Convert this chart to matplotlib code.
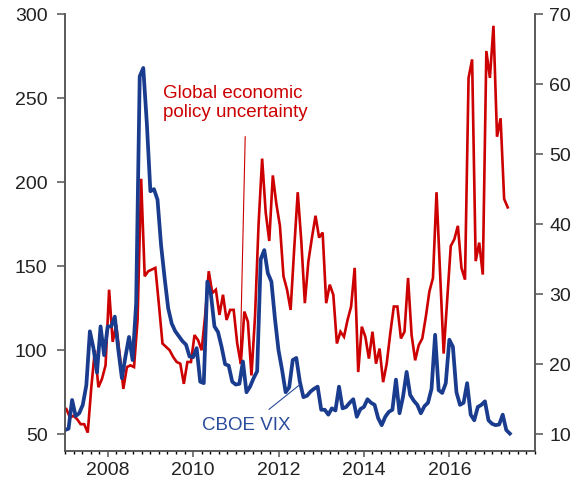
import numpy as np
import matplotlib.pyplot as plt
from matplotlib.ticker import MultipleLocator

plt.rcParams['font.family'] = ['Liberation Sans', 'DejaVu Sans']

# global economic policy uncertainty index, monthly from Jan 2007 (left axis)
epu = [65, 60, 61, 59, 56, 56, 51, 78, 100, 78, 83, 91,
       136, 105, 115, 97, 77, 90, 91, 90, 118, 202, 144, 147,
       148, 149, 127, 104, 102, 100, 96, 93, 92, 80, 93, 93,
       109, 106, 100, 121, 147, 134, 136, 121, 133, 118, 124, 124,
       104, 92, 123, 117, 85, 120, 175, 214, 182, 165, 204, 187,
       174, 144, 136, 124, 160, 194, 165, 128, 153, 167, 180, 167,
       170, 128, 139, 133, 104, 111, 108, 118, 126, 149, 87, 114,
       108, 95, 111, 92, 101, 81, 92, 110, 126, 126, 107, 111,
       143, 109, 94, 103, 107, 120, 135, 143, 194, 146, 98, 130,
       162, 166, 174, 149, 142, 262, 273, 153, 164, 145, 278, 262,
       293, 227, 238, 190, 185]

# CBOE VIX, monthly average from Jan 2007 (right axis)
vix = [10.6, 10.8, 14.9, 12.6, 13.0, 14.2, 17.0, 24.7, 22.3, 18.8, 25.4, 21.3,
       25.4, 25.4, 26.8, 22.0, 18.0, 21.1, 23.9, 20.6, 28.7, 61.1, 62.3, 54.4,
       44.7, 45.0, 43.5, 37.0, 32.3, 28.0, 25.8, 24.7, 24.0, 23.3, 22.8, 21.1,
       21.0, 22.3, 17.5, 17.3, 31.8, 30.0, 25.4, 24.6, 22.5, 20.0, 19.8, 17.5,
       17.1, 17.2, 20.4, 16.0, 16.8, 18.0, 19.0, 35.0, 36.3, 33.0, 31.8, 26.5,
       22.0, 19.2, 16.0, 16.7, 20.6, 20.9, 17.5, 15.3, 15.5, 16.1, 16.5, 16.8,
       13.5, 13.5, 12.8, 13.7, 13.4, 16.8, 13.7, 13.9, 14.5, 15.0, 12.5, 13.6,
       13.9, 15.0, 14.5, 14.2, 12.3, 11.3, 12.5, 13.2, 13.5, 17.8, 13.0, 15.4,
       18.9, 15.6, 14.8, 14.2, 13.0, 14.0, 14.5, 16.5, 24.2, 16.3, 15.9, 17.3,
       23.5, 22.5, 16.0, 14.2, 14.5, 17.3, 12.8, 12.0, 13.9, 14.2, 14.7, 12.0,
       11.5, 11.3, 11.4, 12.8, 10.6, 10.1]

year_ticks = [2008, 2010, 2012, 2014, 2016]

red = '#cc0000'
blue = '#1a3c8e'
axis_col = '#555555'

epu_x = 2007 + (np.arange(len(epu)) + 0.4) / 12
vix_x = 2007 + np.arange(len(vix)) / 12

fig = plt.figure(figsize=(5.75, 4.84), dpi=100)
ax = fig.add_axes([0.113, 0.068, 0.817, 0.903])
ax2 = ax.twinx()

ax.plot(epu_x, epu, color=red, lw=1.9, solid_joinstyle='miter')
ax2.plot(vix_x, vix, color=blue, lw=2.7, solid_joinstyle='round')

ax.set_xlim(2007, 2018)
ax.set_ylim(40, 300)
ax2.set_ylim(7.6, 70)

ax.set_yticks([50, 100, 150, 200, 250, 300])
ax2.set_yticks([10, 20, 30, 40, 50, 60, 70])
ax.set_xticks(year_ticks)
ax.set_xticklabels([str(y) for y in year_ticks])
ax.xaxis.set_minor_locator(MultipleLocator(0.2))

for a in (ax, ax2):
    a.spines['top'].set_visible(False)
    for s in a.spines.values():
        s.set_color(axis_col)
        s.set_linewidth(1.1)
    a.tick_params(colors=axis_col, labelcolor='#222222', labelsize=14)

ax.tick_params(axis='y', length=5.5, width=1.1, pad=7)
ax2.tick_params(axis='y', length=5.5, width=1.1, pad=5)
ax.tick_params(axis='x', which='major', length=4.5, width=1.1, pad=3)
ax.tick_params(axis='x', which='minor', length=2.5, width=1.0)

# labels with thin leader lines
ax.text(2009.29, 258, 'Global economic\npolicy uncertainty', color=red,
        fontsize=13.5, va='top', ha='left', linespacing=1.15)
ax.plot([2011.22, 2011.10], [227, 92], color=red, lw=0.8)

ax2.text(2010.20, 10.6, 'CBOE VIX', color='#2a4c9c', fontsize=13.5,
         va='baseline', ha='left')
ax2.plot([2011.78, 2012.49], [13.57, 17.04], color='#2a4c9c', lw=0.8)

fig.savefig('out.png', dpi=100)
